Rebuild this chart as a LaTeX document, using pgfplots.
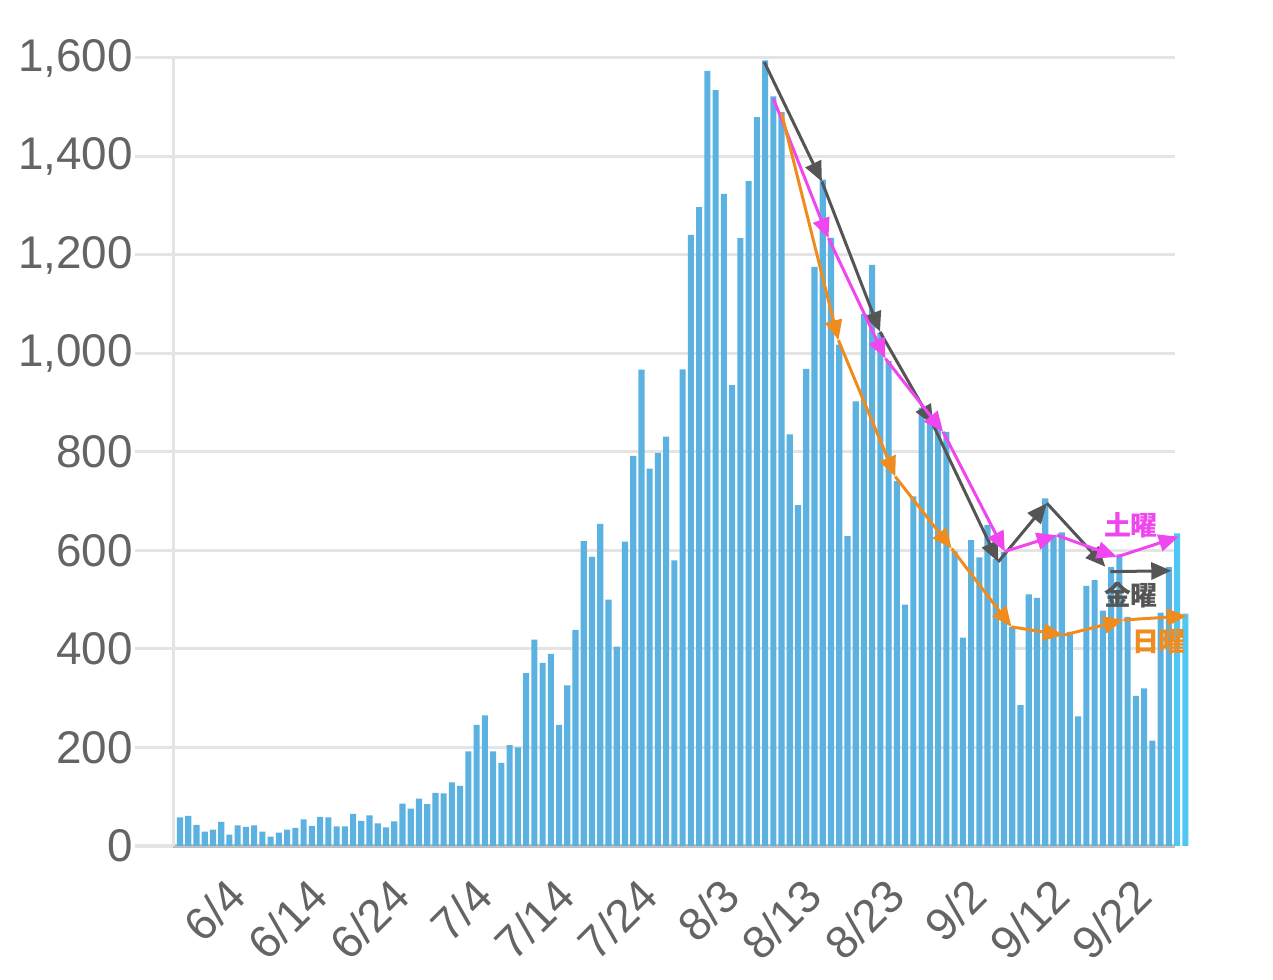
\documentclass[border=0pt]{standalone}
\usepackage{fontspec}
\setmainfont{Liberation Sans}
\newfontfamily\cjk{Noto Sans CJK JP}
\usepackage{pgfplots}
\usepackage{pgfplotstable}
\pgfplotsset{compat=1.18}
\usetikzlibrary{arrows.meta}
\definecolor{barblue}{RGB}{91,178,224}
\definecolor{barlight}{RGB}{80,198,245}
\definecolor{gridgray}{RGB}{228,228,228}
\definecolor{basegray}{RGB}{190,190,190}
\definecolor{labgray}{RGB}{100,100,100}
\definecolor{fri}{RGB}{85,85,85}
\definecolor{sat}{RGB}{240,70,240}
\definecolor{sun}{RGB}{240,140,30}
\pgfplotstableread{
i v
0 58
1 61
2 43
3 29
4 33
5 49
6 23
7 42
8 39
9 42
10 29
11 19
12 27
13 33
14 37
15 54
16 41
17 59
18 58
19 40
20 40
21 65
22 51
23 62
24 46
25 38
26 50
27 86
28 76
29 96
30 85
31 108
32 107
33 129
34 122
35 192
36 246
37 265
38 192
39 169
40 205
41 200
42 351
43 419
44 372
45 390
46 246
47 326
48 439
49 619
50 587
51 654
52 500
53 405
54 618
55 792
56 967
57 766
58 798
59 831
60 580
61 968
62 1241
63 1297
64 1574
65 1535
66 1324
67 936
68 1234
69 1350
70 1480
71 1595
72 1522
73 1490
74 836
75 692
76 969
77 1176
78 1353
79 1235
80 1018
81 629
82 903
83 1080
84 1180
85 1042
86 985
87 741
88 490
89 710
90 890
91 866
92 860
93 841
94 598
95 423
96 621
97 586
98 652
99 583
100 597
101 445
102 286
103 511
104 504
105 706
106 630
107 637
108 435
109 263
110 528
111 540
112 478
113 566
114 592
115 465
116 305
117 320
118 214
119 474
120 566
}\daily
\pgfplotstableread{
i v
121 635
122 472
}\latest
\newcommand\seg[5]{\addplot[#1, line width=3bp, -{Triangle[length=20bp,width=17bp]}] coordinates {(#2,#3)(#4,#5)};}
\begin{document}
\begin{tikzpicture}
\useasboundingbox (0,0) rectangle (1273bp,980bp);
\begin{axis}[
  at={(173bp,134bp)}, anchor=south west,
  scale only axis, width=1002bp, height=788bp,
  xmin=-0.85, xmax=120.75, ymin=0, ymax=1600,
  clip=false,
  axis lines=left,
  x axis line style={-, draw=basegray, line width=4bp},
  y axis line style={-, draw=gridgray, line width=3bp},
  ytick={0,200,...,1600},
  yticklabels={0,200,400,600,800,{1,000},{1,200},{1,400},{1,600}},
  xtick={7,17,...,117},
  xticklabels={6/4,6/14,6/24,7/4,7/14,7/24,8/3,8/13,8/23,9/2,9/12,9/22},
  ymajorgrids, grid style={draw=gridgray, line width=3bp},
  tick align=outside,
  major tick length=38bp,
  ytick style={draw=gridgray, line width=3bp},
  xtick style={draw=none},
  tick label style={font=\fontsize{46}{46}\selectfont, text=labgray},
  yticklabel style={anchor=east, inner sep=2bp},
  xticklabel style={xshift=-13bp, yshift=8bp, rotate=45, anchor=north east, inner sep=0bp},
]
\addplot[ybar, bar width=0.74, fill=barblue, draw=none] table[x=i,y=v]{\daily};
\addplot[ybar, bar width=0.74, fill=barlight, draw=none] table[x=i,y=v]{\latest};
% Friday
\seg{fri}{70.9}{1592}{77.9}{1349}
\seg{fri}{77.9}{1349}{84.95}{1044}
\seg{fri}{84.95}{1044}{91.4}{855}
\seg{fri}{91.4}{855}{99.3}{577}
\seg{fri}{99.3}{577}{105.2}{696}
\seg{fri}{105.2}{696}{112.3}{567}
\seg{fri}{112.9}{557}{120.3}{559}
% Saturday
\seg{sat}{72.0}{1518}{78.7}{1234}
\seg{sat}{78.7}{1234}{85.6}{990}
\seg{sat}{85.6}{990}{92.6}{841}
\seg{sat}{92.6}{841}{100.1}{598}
\seg{sat}{100.1}{598}{106.4}{631}
\seg{sat}{106.4}{631}{113.7}{587}
\seg{sat}{113.7}{587}{121.2}{628}
% Sunday
\seg{sun}{73.0}{1488}{79.9}{1027}
\seg{sun}{79.9}{1027}{86.8}{750}
\seg{sun}{86.8}{750}{93.65}{604}
\seg{sun}{93.65}{604}{100.9}{445}
\seg{sun}{100.9}{445}{107.2}{428}
\seg{sun}{107.2}{428}{114.5}{459}
\seg{sun}{114.5}{459}{122.2}{467}
\node[text=sat, font=\cjk\bfseries\fontsize{27}{27}\selectfont] at (axis cs:115.4,652) {土曜};
\node[text=fri, font=\cjk\bfseries\fontsize{27}{27}\selectfont] at (axis cs:115.4,510) {金曜};
\node[text=sun, font=\cjk\bfseries\fontsize{27}{27}\selectfont] at (axis cs:118.8,415) {日曜};
\end{axis}
\end{tikzpicture}
\end{document}
